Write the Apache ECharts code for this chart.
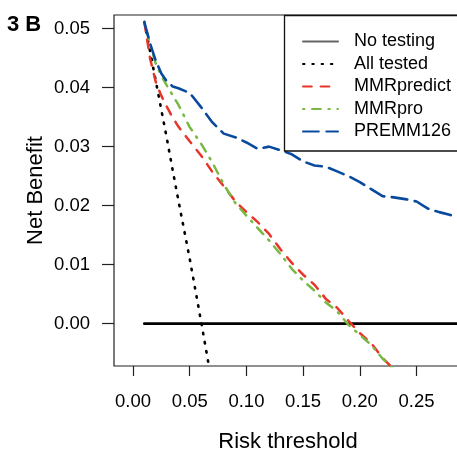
<!DOCTYPE html>
<html>
<head>
<meta charset="utf-8">
<script src="https://cdn.jsdelivr.net/npm/echarts@6/dist/echarts.min.js"></script>
<style>
  html, body { margin: 0; padding: 0; background: #fff; }
  #chart { width: 457px; height: 454px; }
</style>
</head>
<body>
<div id="chart"></div>
<script>
// 阈值（横轴）
var thresholds = [0.01, 0.015, 0.02, 0.025, 0.03, 0.035, 0.04,
  0.05, 0.06, 0.07, 0.08, 0.09, 0.10, 0.11, 0.12, 0.13, 0.14, 0.15,
  0.16, 0.17, 0.18, 0.19, 0.20, 0.21, 0.22, 0.23, 0.24, 0.25, 0.26,
  0.27, 0.28, 0.29];
var seriesNames = ["No testing", "All tested", "MMRpredict", "MMRpro", "PREMM126"];
var noTesting = thresholds.map(function () { return 0; });
var allTested = [0.0511, 0.0462, 0.0412, 0.0362, 0.0312, 0.0260, 0.0209,
  0.0110, 0.0004, -0.0105, null, null, null, null, null, null, null, null,
  null, null, null, null, null, null, null, null, null, null, null,
  null, null, null];
var mmrPredict = [0.0511, 0.0450, 0.0410, 0.0386, 0.0367, 0.0349, 0.0334,
  0.0309, 0.0285, 0.0257, 0.0233, 0.0208, 0.0189, 0.0172, 0.0152, 0.0126, 0.0103, 0.0083,
  0.0066, 0.0042, 0.0027, 0.0005, -0.0016, -0.0033, -0.0058, -0.0077, null, null, null,
  null, null, null];
var mmrPro = [0.0511, 0.0474, 0.0441, 0.0420, 0.0403, 0.0387, 0.0371,
  0.0333, 0.0305, 0.0273, 0.0236, 0.0205, 0.0183, 0.0162, 0.0141, 0.0118, 0.0093, 0.0073,
  0.0056, 0.0036, 0.0021, -0.0002, -0.0019, -0.0036, -0.0059, -0.0078, null, null, null,
  null, null, null];
var premm126 = [0.0511, 0.0475, 0.0446, 0.0424, 0.0410, 0.0402, 0.0399,
  0.0391, 0.0367, 0.0341, 0.0322, 0.0316, 0.0307, 0.0296, 0.0300, 0.0294, 0.0287, 0.0275,
  0.0268, 0.0266, 0.0258, 0.0250, 0.0240, 0.0228, 0.0216, 0.0214, 0.0211, 0.0207, 0.0195,
  0.0189, 0.0184, 0.0182];
var xTicks = [0, 0.05, 0.10, 0.15, 0.20, 0.25];
var yTicks = [0, 0.01, 0.02, 0.03, 0.04, 0.05];

// 组装 [x, y]
function pairs(vals) {
  var out = [];
  for (var i = 0; i < thresholds.length; i++) {
    if (vals[i] !== null) out.push([thresholds[i], vals[i]]);
  }
  return out;
}

var font = "'Liberation Sans', Arial, sans-serif";
var chart = echarts.init(document.getElementById("chart"));

function lineSeries(name, vals, color, width, dash) {
  return {
    name: name,
    type: "line",
    data: pairs(vals),
    symbol: "none",
    clip: true,
    lineStyle: { color: color, width: width, type: dash, cap: "round" },
    itemStyle: { color: color },
    silent: true,
  };
}

var option = {
  animation: false,
  backgroundColor: "#fff",
  grid: {
    left: 114,
    top: 15,
    width: 348,
    height: 351,
    outerBoundsMode: "none",
    containLabel: false,
    show: true,
    borderColor: "#222",
    borderWidth: 1.2,
  },
  xAxis: {
    type: "value",
    min: -0.01676,
    max: 0.2901,
    name: "Risk threshold",
    nameLocation: "middle",
    nameGap: 65,
    nameMoveOverlap: false,
    nameTextStyle: { fontFamily: font, fontSize: 22, color: "#000" },
    axisLine: { show: false, onZero: false },
    splitLine: { show: false },
    axisTick: {
      show: true, inside: false, length: 10,
      customValues: xTicks,
      lineStyle: { color: "#222", width: 1.2 },
    },
    axisLabel: {
      customValues: xTicks,
      margin: 26,
      fontFamily: font,
      fontSize: 18.5,
      color: "#000",
      formatter: function (v) { return v.toFixed(2); },
    },
  },
  yAxis: {
    type: "value",
    min: -0.00717,
    max: 0.0523,
    name: "Net Benefit",
    nameLocation: "middle",
    nameGap: 67,
    nameMoveOverlap: false,
    nameTextStyle: { fontFamily: font, fontSize: 22, color: "#000" },
    axisLine: { show: false, onZero: false },
    splitLine: { show: false },
    axisTick: {
      show: true, inside: false, length: 12,
      customValues: yTicks,
      lineStyle: { color: "#222", width: 1.2 },
    },
    axisLabel: {
      customValues: yTicks,
      margin: 24,
      fontFamily: font,
      fontSize: 18.5,
      color: "#000",
      formatter: function (v) { return v.toFixed(2); },
    },
  },
  legend: {
    orient: "vertical",
    left: 302,
    top: 31,
    padding: 0,
    itemWidth: 35,
    itemHeight: 14,
    itemGap: 1.5,
    selectedMode: false,
    itemStyle: { opacity: 0 },
    data: [
      { name: "No testing", lineStyle: { color: "#666", width: 2 } },
      { name: "All tested" },
      { name: "MMRpredict" },
      { name: "MMRpro" },
      { name: "PREMM126" },
    ],
    textStyle: {
      fontFamily: font,
      fontSize: 18,
      color: "#000",
      lineHeight: 18,
      padding: [3, 0, 0, 11],
    },
  },
  graphic: [
    {
      type: "rect",
      shape: { x: 284.5, y: 15.5, width: 220, height: 135.5 },
      style: { fill: "none", stroke: "#111", lineWidth: 1.3 },
      z: 100,
    },
    {
      type: "text",
      left: 7,
      top: 14,
      style: {
        text: "3 B",
        fontFamily: font,
        fontSize: 22,
        fontWeight: "bold",
        fill: "#000",
      },
    },
  ],
  series: [
    lineSeries(seriesNames[0], noTesting, "#000", 2.8, "solid"),
    lineSeries(seriesNames[1], allTested, "#000", 2.6, [1.5, 7.8]),
    lineSeries(seriesNames[2], mmrPredict, "#E8352A", 2.5, [8.8, 8.8]),
    lineSeries(seriesNames[3], mmrPro, "#78B843", 2.5, [1.5, 7.5, 8.8, 7.5]),
    lineSeries(seriesNames[4], premm126, "#0A4A9E", 2.6, [15.8, 7.5]),
  ],
};
chart.setOption(option);
</script>
</body>
</html>
